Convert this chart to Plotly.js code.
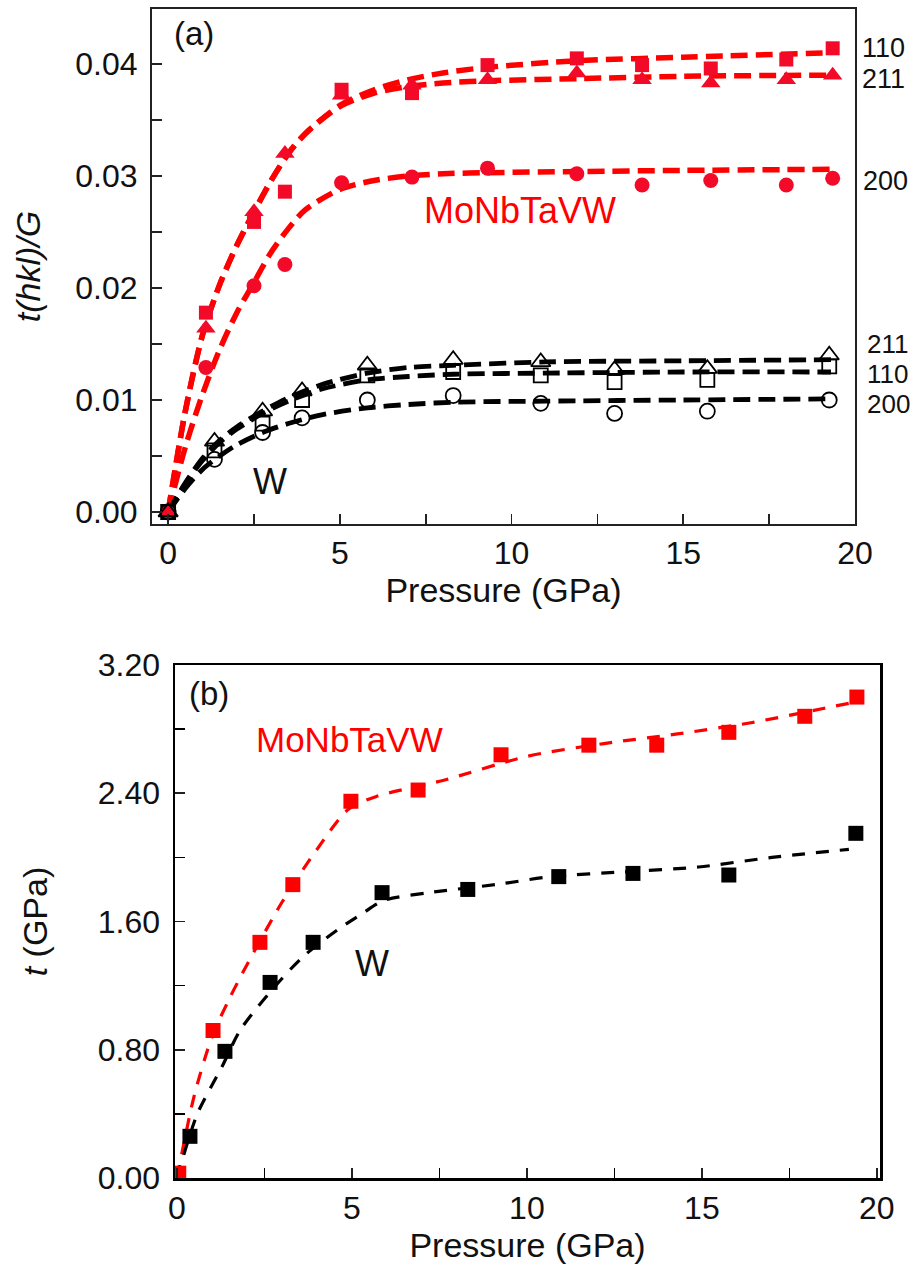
<!DOCTYPE html>
<html>
<head>
<meta charset="utf-8">
<script src="https://cdn.plot.ly/plotly-3.0.1.min.js"></script>
<style>html,body{margin:0;padding:0;background:#fff;}#chart{width:921px;height:1282px;}</style>
</head>
<body>
<div id="chart"></div>
<script>
// ---------- Panel (a): t(hkl)/G vs pressure ----------
const aHeaPressure = [0, 1.1, 2.5, 3.4, 5.05, 7.1, 9.3, 11.9, 13.8, 15.8, 18.0, 19.35];
const aHea110 = [0, 0.0178, 0.0259, 0.0286, 0.0377, 0.0374, 0.0399, 0.0405, 0.0399, 0.0396, 0.0404, 0.0414];
const aHea211 = [0, 0.0164, 0.0268, 0.0320, 0.0372, 0.0381, 0.0386, 0.0392, 0.0386, 0.0383, 0.0386, 0.0390];
const aHea200 = [0, 0.0129, 0.0202, 0.0221, 0.0294, 0.0299, 0.0307, 0.0302, 0.0292, 0.0296, 0.0292, 0.0298];

const aHeaFitP = [0, 0.5, 1, 1.5, 2, 2.5, 3, 3.5, 4, 5, 6, 7, 8, 9.3, 12, 15, 19.3];
const aHeaFit110 = [0, 0.0090, 0.0158, 0.0203, 0.0238, 0.0268, 0.0296, 0.0320, 0.0338, 0.0363, 0.0377, 0.0386, 0.0392, 0.0397, 0.0403, 0.0406, 0.0410];
const aHeaFit211 = [0, 0.0090, 0.0158, 0.0203, 0.0238, 0.0268, 0.0296, 0.0320, 0.0338, 0.0362, 0.0374, 0.0380, 0.0383, 0.0385, 0.0387, 0.0389, 0.0390];
const aHeaFit200 = [0, 0.0058, 0.0105, 0.0145, 0.0178, 0.0205, 0.0232, 0.0253, 0.0270, 0.0288, 0.0296, 0.0300, 0.0302, 0.0303, 0.0304, 0.0305, 0.0306];

const aWPressure = [0, 1.35, 2.75, 3.9, 5.8, 8.3, 10.85, 13.0, 15.7, 19.25];
const aW211 = [0, 0.0063, 0.0090, 0.0108, 0.0131, 0.0136, 0.0134, 0.0127, 0.0128, 0.0140];
const aW110 = [0, 0.0055, 0.0079, 0.0100, 0.0122, 0.0125, 0.0122, 0.0116, 0.0118, 0.0130];
const aW200 = [0, 0.0047, 0.0071, 0.0084, 0.0100, 0.0104, 0.0097, 0.0088, 0.0090, 0.0100];

const aWFitP = [0, 0.5, 1, 1.5, 2, 2.75, 3.5, 4.5, 5.8, 7, 8.3, 11, 15, 19.3];
const aWFit211 = [0, 0.0026, 0.0048, 0.0064, 0.0076, 0.0090, 0.0102, 0.0114, 0.0124, 0.0129, 0.0131, 0.0134, 0.0135, 0.0136];
const aWFit110 = [0, 0.0025, 0.0046, 0.0062, 0.0074, 0.0088, 0.0099, 0.0110, 0.0118, 0.0121, 0.0123, 0.0124, 0.0125, 0.0125];
const aWFit200 = [0, 0.0021, 0.0038, 0.0050, 0.0060, 0.0071, 0.0079, 0.0087, 0.0093, 0.0096, 0.0098, 0.0099, 0.0100, 0.0101];

// ---------- Panel (b): t vs pressure ----------
const bHeaPressure = [0.05, 1.03, 2.37, 3.31, 4.97, 6.89, 9.26, 11.77, 13.71, 15.77, 17.94, 19.43];
const bHeaT = [0.03, 0.92, 1.47, 1.83, 2.35, 2.42, 2.64, 2.70, 2.70, 2.78, 2.88, 3.00];
const bWPressure = [0.37, 1.37, 2.66, 3.89, 5.86, 8.31, 10.91, 13.03, 15.77, 19.4];
const bWT = [0.26, 0.79, 1.22, 1.47, 1.78, 1.80, 1.88, 1.90, 1.89, 2.15];

const bHeaFitP = [0, 0.2, 0.5, 1, 1.5, 2, 3, 4, 4.9, 5.7, 7.6, 10, 12.2, 14.3, 16.4, 18.5, 19.4];
const bHeaFitT = [0, 0.22, 0.52, 0.88, 1.12, 1.33, 1.72, 2.05, 2.30, 2.38, 2.48, 2.63, 2.71, 2.77, 2.84, 2.93, 2.97];
const bWFitP = [0, 0.3, 0.6, 1.3, 1.8, 2.7, 3.6, 4.6, 5.3, 5.9, 7.2, 9.1, 10.7, 12.8, 14.9, 17.0, 19.2];
const bWFitT = [0, 0.22, 0.41, 0.70, 0.92, 1.17, 1.38, 1.55, 1.65, 1.73, 1.78, 1.83, 1.88, 1.91, 1.94, 2.00, 2.05];

// ---------- Labels ----------
const aTicksX = [0, 5, 10, 15, 20];
const aTicksY = [0, 0.01, 0.02, 0.03, 0.04];
const bTicksX = [0, 5, 10, 15, 20];
const bTicksY = [0, 0.8, 1.6, 2.4, 3.2];
const hklLabelsHea = ['110', '211', '200'];
const hklLabelsW = ['211', '110', '200'];

const W = 921, H = 1282;
const px = v => v / W;
const py = v => 1 - v / H;
const RED = '#ff0000';
const MRED = '#f20a28';
const FONT = 'Liberation Sans, Arial, Helvetica, sans-serif';

function fit(x, y, color, width, dash, xa, ya) {
  return {x: x, y: y, mode: 'lines', xaxis: xa, yaxis: ya, hoverinfo: 'skip',
    line: {color: color, width: width, dash: dash, shape: 'spline', smoothing: 0.8}};
}
function pts(x, y, symbol, size, color, xa, ya, lw) {
  return {x: x, y: y, mode: 'markers', xaxis: xa, yaxis: ya,
    marker: {symbol: symbol, size: size, color: color,
      line: {color: color, width: lw || 0}}};
}

const dA = '17px,8px';
const dB = '13px,11px';
const traces = [
  fit(aHeaFitP, aHeaFit110, RED, 5.5, dA, 'x', 'y'),
  fit(aHeaFitP, aHeaFit211, RED, 5.5, dA, 'x', 'y'),
  fit(aHeaFitP, aHeaFit200, RED, 5.5, dA, 'x', 'y'),
  fit(aWFitP, aWFit211, '#000', 4.8, dA, 'x', 'y'),
  fit(aWFitP, aWFit110, '#000', 4.8, dA, 'x', 'y'),
  fit(aWFitP, aWFit200, '#000', 4.8, dA, 'x', 'y'),
  pts(aHeaPressure, aHea110, 'square', 14, MRED, 'x', 'y'),
  pts(aHeaPressure, aHea211, 'triangle-up', 17, MRED, 'x', 'y'),
  pts(aHeaPressure, aHea200, 'circle', 15, MRED, 'x', 'y'),
  pts(aWPressure, aW211, 'triangle-up-open', 17, '#000', 'x', 'y', 1.8),
  pts(aWPressure, aW110, 'square-open', 14, '#000', 'x', 'y', 1.8),
  pts(aWPressure, aW200, 'circle-open', 15, '#000', 'x', 'y', 1.8),
  fit(bHeaFitP, bHeaFitT, RED, 3.2, dB, 'x2', 'y2'),
  fit(bWFitP, bWFitT, '#000', 3.2, dB, 'x2', 'y2'),
  pts(bHeaPressure, bHeaT, 'square', 15, RED, 'x2', 'y2'),
  pts(bWPressure, bWT, 'square', 15, '#000', 'x2', 'y2')
];

function axis(extra) {
  return Object.assign({
    showline: true, mirror: true, linecolor: '#222', linewidth: 2,
    ticks: 'inside', ticklen: 10, tickwidth: 1.6, tickcolor: '#222',
    showgrid: false, zeroline: false, automargin: false,
    tickfont: {family: FONT, size: 32, color: '#111'}
  }, extra);
}
const titleFont = {family: FONT, size: 34, color: '#111'};

const annotations = [
  {text: '(a)', x: px(194), y: py(34)},
  {text: 'MoNbTaVW', x: px(520), y: py(210), color: RED, size: 36},
  {text: 'W', x: px(270), y: py(481), size: 36},
  {text: hklLabelsHea[0], x: px(883), y: py(48), size: 27},
  {text: hklLabelsHea[1], x: px(883), y: py(79), size: 27},
  {text: hklLabelsHea[2], x: px(885), y: py(181), size: 27},
  {text: hklLabelsW[0], x: px(887), y: py(344), size: 26},
  {text: hklLabelsW[1], x: px(887), y: py(374), size: 26},
  {text: hklLabelsW[2], x: px(888), y: py(404), size: 26},
  {text: '(b)', x: px(209), y: py(693)},
  {text: 'MoNbTaVW', x: px(349), y: py(740), color: RED, size: 35},
  {text: 'W', x: px(372), y: py(963), size: 36}
].map(a => ({
  text: a.text, x: a.x, y: a.y, xref: 'paper', yref: 'paper',
  xanchor: 'center', yanchor: 'middle', showarrow: false,
  font: {family: FONT, size: a.size || 33, color: a.color || '#111'}
}));

const layout = {
  width: W, height: H,
  margin: {l: 0, r: 0, t: 0, b: 0},
  paper_bgcolor: '#fff', plot_bgcolor: '#fff',
  showlegend: false,
  font: {family: FONT},
  xaxis: axis({domain: [px(152), px(855)], range: [-0.47, 20], anchor: 'y',
    tickvals: aTicksX, minor: {ticks: 'inside', tick0: 0, dtick: 2.5, ticklen: 10, tickwidth: 1.6, tickcolor: '#222'},
    title: {text: 'Pressure (GPa)', font: titleFont, standoff: 6}}),
  yaxis: axis({domain: [py(524), py(9)], range: [-0.00107, 0.04491], anchor: 'x',
    tickvals: aTicksY, tickformat: '.2f', ticklabelstandoff: 6,
    minor: {ticks: 'inside', tick0: 0, dtick: 0.005, ticklen: 10, tickwidth: 1.6, tickcolor: '#222'},
    title: {text: '<i>t(hkl)/G</i>', font: titleFont, standoff: 24}}),
  xaxis2: axis({domain: [px(175), px(880)], range: [-0.057, 20.09], anchor: 'y2',
    linecolor: '#000', linewidth: 2.5,
    tickvals: bTicksX, minor: {ticks: 'inside', tick0: 0, dtick: 2.5, ticklen: 10, tickwidth: 1.6, tickcolor: '#000'},
    title: {text: 'Pressure (GPa)', font: titleFont, standoff: 6}}),
  yaxis2: axis({domain: [py(1178), py(665)], range: [0, 3.2], anchor: 'x2',
    linecolor: '#000', linewidth: 2.5,
    tickvals: bTicksY, tickformat: '.2f', ticklabelstandoff: 6,
    minor: {ticks: 'inside', tick0: 0, dtick: 0.4, ticklen: 10, tickwidth: 1.6, tickcolor: '#000'},
    title: {text: '<i>t</i> (GPa)', font: titleFont, standoff: 40}}),
  annotations: annotations
};

Plotly.newPlot('chart', traces, layout, {staticPlot: true, displayModeBar: false});
</script>
</body>
</html>
